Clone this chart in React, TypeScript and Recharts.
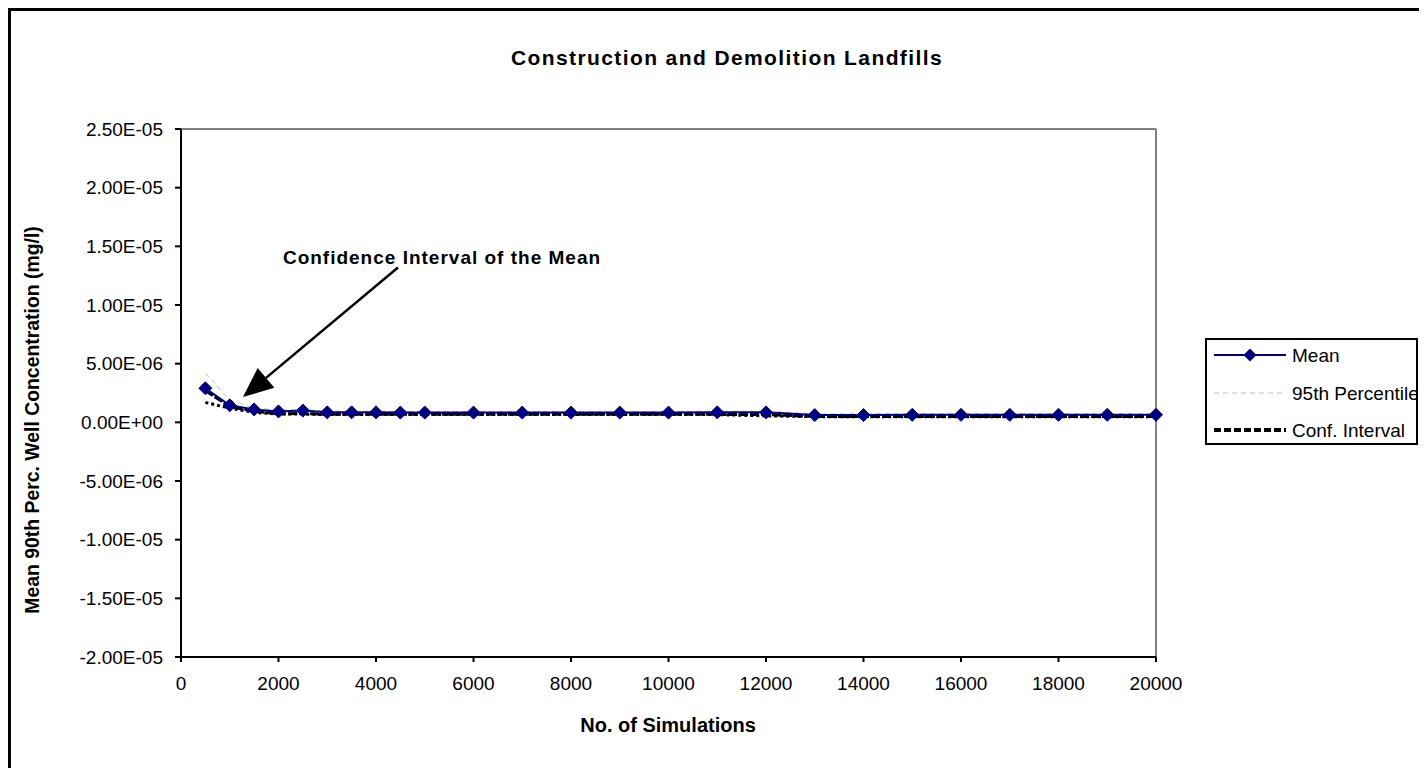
import React from 'react';
import { LineChart, Line, XAxis, YAxis, ReferenceLine, Customized } from 'recharts';

const simulations = [500, 1000, 1500, 2000, 2500, 3000, 3500, 4000, 4500, 5000, 6000, 7000, 8000, 9000, 10000, 11000, 12000, 13000, 14000, 15000, 16000, 17000, 18000, 19000, 20000];
const meanVals = [2.9e-6, 1.45e-6, 1.1e-6, 0.93e-6, 1.0e-6, 0.85e-6, 0.85e-6, 0.85e-6, 0.83e-6, 0.83e-6, 0.83e-6, 0.83e-6, 0.83e-6, 0.83e-6, 0.83e-6, 0.85e-6, 0.85e-6, 0.62e-6, 0.62e-6, 0.64e-6, 0.64e-6, 0.64e-6, 0.64e-6, 0.64e-6, 0.64e-6];
const p95Vals = [4.2e-6, 1.9e-6, 1.25e-6, 1.03e-6, 1.1e-6, 0.95e-6, 0.95e-6, 0.95e-6, 0.93e-6, 0.93e-6, 0.93e-6, 0.93e-6, 0.93e-6, 0.93e-6, 0.93e-6, 0.95e-6, 0.95e-6, 0.72e-6, 0.72e-6, 0.74e-6, 0.74e-6, 0.74e-6, 0.74e-6, 0.74e-6, 0.74e-6];
const ciHighVals = [2.7e-6, 1.35e-6, 0.95e-6, 0.72e-6, 0.75e-6, 0.68e-6, 0.68e-6, 0.68e-6, 0.68e-6, 0.68e-6, 0.68e-6, 0.68e-6, 0.68e-6, 0.68e-6, 0.68e-6, 0.68e-6, 0.66e-6, 0.5e-6, 0.5e-6, 0.5e-6, 0.5e-6, 0.5e-6, 0.5e-6, 0.5e-6, 0.5e-6];
const ciLowVals = [1.7e-6, 1.2e-6, 0.85e-6, 0.7e-6, 0.7e-6, 0.66e-6, 0.66e-6, 0.66e-6, 0.66e-6, 0.66e-6, 0.66e-6, 0.66e-6, 0.66e-6, 0.66e-6, 0.66e-6, 0.66e-6, 0.55e-6, 0.48e-6, 0.48e-6, 0.48e-6, 0.48e-6, 0.48e-6, 0.48e-6, 0.48e-6, 0.48e-6];

const xTicks = [0, 2000, 4000, 6000, 8000, 10000, 12000, 14000, 16000, 18000, 20000];
const yTicks = [-2e-5, -1.5e-5, -1e-5, -5e-6, 0, 5e-6, 1e-5, 1.5e-5, 2e-5, 2.5e-5];

const titleText = 'Construction and Demolition Landfills';
const xLabelText = 'No. of Simulations';
const yLabelText = 'Mean 90th Perc. Well Concentration  (mg/l)';
const annotationText = 'Confidence Interval of the Mean';
const legendLabels = ['Mean', '95th Percentile', 'Conf. Interval'];

const arrowStart = { x: 4451, y: 13.2e-6 };
const arrowEnd = { x: 1272, y: 2.15e-6 };

const data = simulations.map((s, i) => ({
  sims: s,
  mean: meanVals[i],
  p95: p95Vals[i],
  ciHigh: ciHighVals[i],
  ciLow: ciLowVals[i],
}));

const FONT = '"Liberation Sans", Arial, sans-serif';
const NAVY = '#000080';

const fmtSci = (v: number) => {
  const [m, e] = Number(v).toExponential(2).split('e');
  const sign = e.startsWith('-') ? '-' : '+';
  const digits = e.replace('-', '').replace('+', '').padStart(2, '0');
  return `${m}E${sign}${digits}`;
};

const Diamond = (props: any) => {
  const { cx, cy } = props;
  if (cx == null || cy == null) return null;
  const r = 6.5;
  return (
    <polygon
      points={`${cx},${cy - r} ${cx + r},${cy} ${cx},${cy + r} ${cx - r},${cy}`}
      fill={NAVY}
      stroke={NAVY}
      strokeWidth={1}
    />
  );
};

const ArrowShape = (props: any) => {
  const { x1, y1, x2, y2 } = props;
  if ([x1, y1, x2, y2].some((v) => v == null || isNaN(v))) return null;
  const dx = x2 - x1;
  const dy = y2 - y1;
  const len = Math.sqrt(dx * dx + dy * dy);
  const ux = dx / len;
  const uy = dy / len;
  const headLen = 30;
  const headHalf = 13;
  const bx = x2 - ux * headLen;
  const by = y2 - uy * headLen;
  const px = -uy;
  const py = ux;
  return (
    <g>
      <line x1={x1} y1={y1} x2={bx} y2={by} stroke="#000" strokeWidth={2.5} />
      <polygon
        points={`${x2},${y2} ${bx + px * headHalf},${by + py * headHalf} ${bx - px * headHalf},${by - py * headHalf}`}
        fill="#000"
      />
      <text
        x={x1 + 44}
        y={y1 - 10}
        textAnchor="middle"
        dominantBaseline="central"
        fontFamily={FONT}
        fontWeight="bold"
        fontSize={19}
        letterSpacing={1}
        fill="#000"
      >
        {annotationText}
      </text>
    </g>
  );
};

const Titles = () => (
  <g>
    <text x={716} y={46} textAnchor="middle" dominantBaseline="central" fontFamily={FONT} fontWeight="bold" fontSize={21} letterSpacing={1.4} fill="#000">
      {titleText}
    </text>
    <text x={657} y={714} textAnchor="middle" dominantBaseline="central" fontFamily={FONT} fontWeight="bold" fontSize={20} fill="#000">
      {xLabelText}
    </text>
    <text
      x={21}
      y={409}
      textAnchor="middle"
      dominantBaseline="central"
      fontFamily={FONT}
      fontWeight="bold"
      fontSize={19.4}
      transform="rotate(-90, 21, 409)"
      fill="#000"
    >
      {yLabelText}
    </text>
  </g>
);

const LegendBox = () => {
  const rows = [17, 55, 92];
  return (
    <div
      style={{
        position: 'absolute',
        left: 1194,
        top: 327,
        width: 213,
        height: 107,
        border: '2px solid #000',
        boxSizing: 'border-box',
        background: '#fff',
        overflow: 'hidden',
      }}
    >
      <svg width={209} height={103} style={{ display: 'block', position: 'absolute', left: -2, top: -2 }} overflow="visible">
        <line x1={9} x2={81} y1={rows[0]} y2={rows[0]} stroke={NAVY} strokeWidth={2} />
        <polygon points={`45,${rows[0] - 6.5} 51.5,${rows[0]} 45,${rows[0] + 6.5} 38.5,${rows[0]}`} fill={NAVY} />
        <line x1={9} x2={81} y1={rows[1]} y2={rows[1]} stroke="#c0c0c0" strokeWidth={1} strokeDasharray="5 4" />
        <line x1={9} x2={81} y1={rows[2]} y2={rows[2]} stroke="#000" strokeWidth={4} strokeDasharray="7 3" />
        {legendLabels.map((t, i) => (
          <text key={t} x={87} y={rows[i]} dominantBaseline="central" fontFamily={FONT} fontSize={19} fill="#000">
            {t}
          </text>
        ))}
      </svg>
    </div>
  );
};

export default function App() {
  return (
    <div
      style={{
        position: 'relative',
        width: 1416,
        height: 757,
        borderTop: '3px solid #000',
        borderLeft: '3px solid #000',
        background: '#fff',
      }}
    >
      <LineChart width={1416} height={757} data={data} margin={{ top: 118, right: 271, left: 0, bottom: 0 }}>
        <XAxis
          dataKey="sims"
          type="number"
          domain={[0, 20000]}
          ticks={xTicks}
          interval={0}
          height={111}
          axisLine={{ stroke: '#000', strokeWidth: 2 }}
          tickLine={{ stroke: '#000', strokeWidth: 2 }}
          tickSize={5}
          tickMargin={15}
          tick={{ fill: '#000', fontSize: 19, fontFamily: FONT }}
        />
        <YAxis
          type="number"
          domain={[-2e-5, 2.5e-5]}
          ticks={yTicks}
          interval={0}
          width={170}
          tickFormatter={fmtSci}
          axisLine={{ stroke: '#000', strokeWidth: 2 }}
          tickLine={{ stroke: '#000', strokeWidth: 2 }}
          tickSize={6}
          tickMargin={12}
          tick={{ fill: '#000', fontSize: 19, fontFamily: FONT }}
          allowDataOverflow
        />
        <ReferenceLine y={2.5e-5} stroke="#808080" strokeWidth={2} ifOverflow="visible" />
        <ReferenceLine x={20000} stroke="#808080" strokeWidth={2} ifOverflow="visible" />
        <Line dataKey="p95" stroke="#c0c0c0" strokeWidth={1} strokeDasharray="5 4" dot={false} isAnimationActive={false} />
        <Line dataKey="ciLow" stroke="#000" strokeWidth={3} strokeDasharray="3 3" dot={false} isAnimationActive={false} />
        <Line dataKey="ciHigh" stroke="#000" strokeWidth={3} strokeDasharray="9 2" dot={false} isAnimationActive={false} />
        <Line dataKey="mean" stroke={NAVY} strokeWidth={2} dot={<Diamond />} activeDot={false} isAnimationActive={false} />
        <ReferenceLine
          segment={[arrowStart, arrowEnd]}
          ifOverflow="visible"
          shape={<ArrowShape />}
        />
        <Customized component={Titles} />
      </LineChart>
      <LegendBox />
    </div>
  );
}
